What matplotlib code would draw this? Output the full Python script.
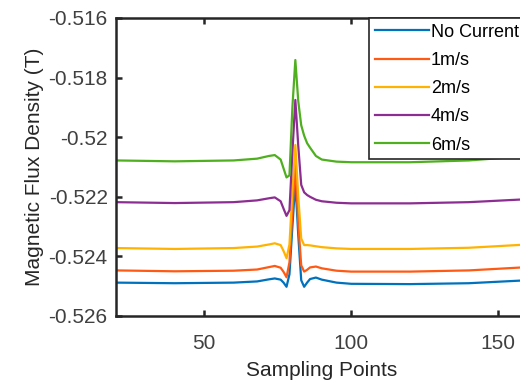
import matplotlib
matplotlib.use('Agg')
import matplotlib.pyplot as plt

plt.rcParams['font.family'] = ['Liberation Sans', 'DejaVu Sans']

x_pts = [20, 40, 60, 68, 72, 74, 76, 77, 78, 79, 80, 81, 82, 83, 84, 85, 86, 88, 90, 95, 100, 120, 140, 160]

no_current = [-0.52488, -0.52490, -0.52488, -0.52484, -0.52477, -0.52474, -0.52478, -0.52488, -0.52502, -0.52460,
              -0.52300, -0.52150, -0.52330, -0.52480, -0.52502, -0.52488, -0.52476, -0.52471, -0.52478, -0.52488,
              -0.52492, -0.52493, -0.52490, -0.52480]
v1 = [-0.52447, -0.52450, -0.52448, -0.52444, -0.52436, -0.52432, -0.52438, -0.52452, -0.52470, -0.52420,
      -0.52250, -0.52090, -0.52290, -0.52430, -0.52451, -0.52445, -0.52437, -0.52434, -0.52440, -0.52448,
      -0.52451, -0.52451, -0.52447, -0.52436]
v2 = [-0.52372, -0.52375, -0.52372, -0.52367, -0.52360, -0.52356, -0.52362, -0.52382, -0.52406, -0.52360,
      -0.52180, -0.52026, -0.52200, -0.52340, -0.52362, -0.52362, -0.52363, -0.52366, -0.52369, -0.52373,
      -0.52375, -0.52375, -0.52371, -0.52360]
v4 = [-0.52218, -0.52221, -0.52218, -0.52212, -0.52205, -0.52202, -0.52215, -0.52240, -0.52264, -0.52245,
      -0.52050, -0.51875, -0.52030, -0.52160, -0.52185, -0.52194, -0.52200, -0.52210, -0.52215, -0.52220,
      -0.52222, -0.52222, -0.52218, -0.52208]
v6 = [-0.52078, -0.52081, -0.52078, -0.52072, -0.52063, -0.52060, -0.52075, -0.52105, -0.52135, -0.52128,
      -0.51900, -0.51741, -0.51880, -0.51960, -0.51995, -0.52020, -0.52035, -0.52063, -0.52075, -0.52082,
      -0.52084, -0.52084, -0.52078, -0.52063]

labels = ['No Current', '1m/s', '2m/s', '4m/s', '6m/s']
colors = ['#0072BD', '#FF5A14', '#FFB300', '#8C2D91', '#4FAF1F']

fig = plt.figure(figsize=(5.2, 3.85), dpi=100)
ax = fig.add_axes([116 / 520, 69 / 385, 411.6 / 520, 298 / 385])

for ys, lab, c in zip([no_current, v1, v2, v4, v6], labels, colors):
    ax.plot(x_pts, ys, color=c, lw=1.6, label=lab)

ax.set_xlim(20, 160)
ax.set_ylim(-0.526, -0.516)
ax.set_xticks([50, 100, 150])
ax.set_yticks([-0.526, -0.524, -0.522, -0.52, -0.518, -0.516])
ax.set_yticklabels(['-0.526', '-0.524', '-0.522', '-0.52', '-0.518', '-0.516'])

for s in ax.spines.values():
    s.set_linewidth(1.8)
    s.set_color('#262626')
ax.tick_params(direction='in', length=4, width=1.8, color='#262626',
               top=True, right=True, labelsize=15, labelcolor='#404040', pad=6)
ax.tick_params(axis='x', pad=13)
ax.set_xlabel('Sampling Points', fontsize=15, color='#262626', labelpad=6)
ax.set_ylabel('Magnetic Flux Density (T)', fontsize=15, color='#262626', labelpad=3)

leg = ax.legend(loc='upper left', bbox_to_anchor=(369 / 520, 1 - 18 / 385),
                bbox_transform=fig.transFigure, fontsize=13, frameon=True, fancybox=False,
                borderaxespad=0, handlelength=3.0, handletextpad=0.1, labelspacing=0.62,
                borderpad=0.32)
leg.get_frame().set_edgecolor('#262626')
leg.get_frame().set_linewidth(1.2)
leg.get_frame().set_alpha(1)

fig.savefig('out.png', dpi=100)
